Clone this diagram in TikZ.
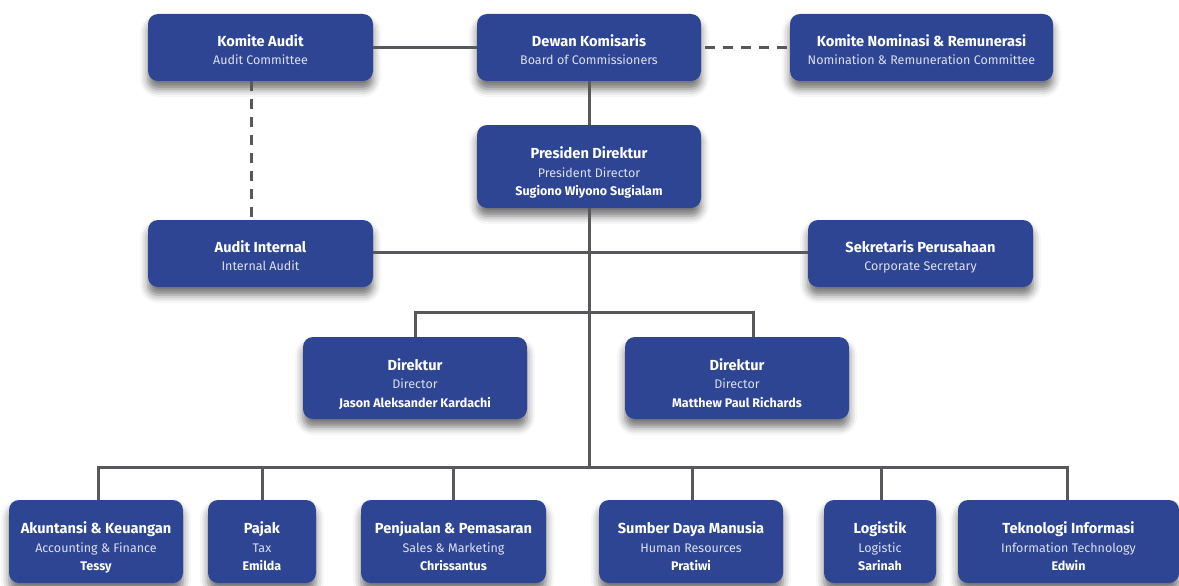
\documentclass[tikz,border=0pt]{standalone}
\usepackage{fontspec}
\setmainfont{Fira Sans}
\usetikzlibrary{shadows.blur}
\definecolor{boxblue}{HTML}{2E4593}
\definecolor{linegray}{HTML}{58585C}
\definecolor{subtext}{HTML}{DCE0EE}
\tikzset{
  orgbox/.style={draw=none, fill=boxblue, rounded corners=10pt, inner sep=0pt,
    blur shadow={shadow xshift=0pt, shadow yshift=-8pt, shadow blur radius=8pt, shadow opacity=55}},
  orgtext/.style={text=white, align=center, inner sep=0pt, font=\fontsize{12.5}{18.5}\selectfont},
  conn/.style={draw=linegray, line width=3pt},
  dconn/.style={draw=linegray, line width=3pt, dash pattern=on 10pt off 8pt},
}
\newcommand{\ttl}[1]{{\fontsize{14.6}{18.5}\selectfont\bfseries\strut #1}}
\newcommand{\sbt}[1]{{\color{subtext}\strut #1}}
\newcommand{\nme}[1]{{\bfseries\strut #1}}
% \orgnode{name}{x1}{y1}{x2}{y2}{text shift}{text}
\newcommand{\orgnode}[7]{%
  \node[orgbox, minimum width={(#4-#2)*1pt}, minimum height={(#5-#3)*1pt}]
    (#1) at ({(#2+#4)/2},{-(#3+#5)/2}) {};
  \node[orgtext, yshift=#6] (#1t) at (#1.center) {#7};
}
\begin{document}
\begin{tikzpicture}[x=1pt,y=1pt]
\useasboundingbox (0,0) rectangle (1179,-586);
% junction coordinates
\coordinate (jdir) at (589,-312);
\coordinate (jdirL) at (415,-312);
\coordinate (jdirR) at (753,-312);
\coordinate (jbot) at (589,-467);
\coordinate (jb1) at (98,-467);
\coordinate (jb2) at (262,-467);
\coordinate (jb3) at (453,-467);
\coordinate (jb4) at (692,-467);
\coordinate (jb5) at (881,-467);
\coordinate (jb6) at (1067,-467);
% boxes
\orgnode{ka}{148}{14}{373}{81}{-4.3pt}{\ttl{Komite Audit}\\\sbt{Audit Committee}}
\orgnode{dk}{477}{14}{701}{81}{-4.3pt}{\ttl{Dewan Komisaris}\\\sbt{Board of Commissioners}}
\orgnode{kn}{790}{14}{1053}{81}{-4.3pt}{\ttl{Komite Nominasi \& Remunerasi}\\\sbt{Nomination \& Remuneration Committee}}
\orgnode{pd}{477}{125}{701}{208}{-6.8pt}{\ttl{Presiden Direktur}\\\sbt{President Director}\\\nme{Sugiono Wiyono Sugialam}}
\orgnode{ai}{148}{220}{373}{287}{-4.3pt}{\ttl{Audit Internal}\\\sbt{Internal Audit}}
\orgnode{sp}{808}{220}{1033}{287}{-4.3pt}{\ttl{Sekretaris Perusahaan}\\\sbt{Corporate Secretary}}
\orgnode{da}{303}{337}{527}{419}{-6.8pt}{\ttl{Direktur}\\\sbt{Director}\\\nme{Jason Aleksander Kardachi}}
\orgnode{db}{625}{337}{849}{419}{-6.8pt}{\ttl{Direktur}\\\sbt{Director}\\\nme{Matthew Paul Richards}}
\orgnode{b1}{9}{500}{183}{583}{-6.8pt}{\ttl{Akuntansi \& Keuangan}\\\sbt{Accounting \& Finance}\\\nme{Tessy}}
\orgnode{b2}{208}{500}{316}{583}{-6.8pt}{\ttl{Pajak}\\\sbt{Tax}\\\nme{Emilda}}
\orgnode{b3}{361}{500}{546}{583}{-6.8pt}{\ttl{Penjualan \& Pemasaran}\\\sbt{Sales \& Marketing}\\\nme{Chrissantus}}
\orgnode{b4}{599}{500}{783}{583}{-6.8pt}{\ttl{Sumber Daya Manusia}\\\sbt{Human Resources}\\\nme{Pratiwi}}
\orgnode{b5}{824}{500}{936}{583}{-6.8pt}{\ttl{Logistik}\\\sbt{Logistic}\\\nme{Sarinah}}
\orgnode{b6}{958}{500}{1179}{583}{-6.8pt}{\ttl{Teknologi Informasi}\\\sbt{Information Technology}\\\nme{Edwin}}
% connectors
\draw[conn] (ka.east) -- (dk.west);
\draw[dconn] ([xshift=4pt]dk.east) -- (kn.west);
\draw[dconn] ([xshift=-9pt]ka.south) -- ([xshift=-9pt]ai.north);
\draw[conn] (dk.south) -- (pd.north);
\draw[conn] (pd.south) -- (jbot);
\draw[conn] ([yshift=1pt]ai.east) -- ([yshift=1pt]sp.west);
\draw[conn] (jdirL) -- (jdirR);
\draw[conn] ([yshift=1.5pt]jdirL) -- (da.north -| jdirL);
\draw[conn] ([yshift=1.5pt]jdirR) -- (db.north -| jdirR);
\draw[conn] ([xshift=-1.5pt]jb1) -- ([xshift=1.5pt]jb6);
\draw[conn] ([yshift=1.5pt]jb1) -- (b1.north -| jb1);
\draw[conn] (jb2) -- (b2.north -| jb2);
\draw[conn] (jb3) -- (b3.north -| jb3);
\draw[conn] (jb4) -- (b4.north -| jb4);
\draw[conn] (jb5) -- (b5.north -| jb5);
\draw[conn] ([yshift=1.5pt]jb6) -- (b6.north -| jb6);
\end{tikzpicture}
\end{document}
